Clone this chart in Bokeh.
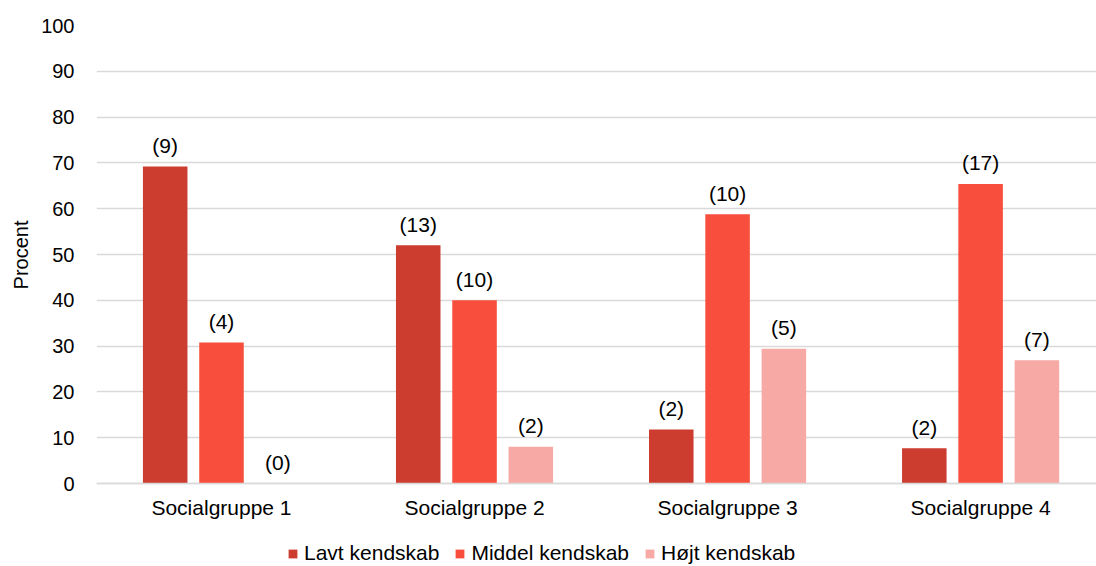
from bokeh.plotting import figure
from bokeh.models import ColumnDataSource, Legend, LegendItem, Range1d, FixedTicker, Title
from bokeh.core.properties import value
from bokeh.embed import file_html
from bokeh.resources import INLINE

categories = ["Socialgruppe 1", "Socialgruppe 2", "Socialgruppe 3", "Socialgruppe 4"]
series = ["Lavt kendskab", "Middel kendskab", "Højt kendskab"]
lavt = [69.2, 52.0, 11.8, 7.7]
middel = [30.8, 40.0, 58.8, 65.4]
hoejt = [0.0, 8.0, 29.4, 26.9]
lavt_n = [9, 13, 2, 2]
middel_n = [4, 10, 10, 17]
hoejt_n = [0, 2, 5, 7]
colors = ["#CC3D30", "#F84E3E", "#F7A9A5"]
y_ticks = [0, 10, 20, 30, 40, 50, 60, 70, 80, 90, 100]

FONT = "Liberation Sans"

# layout (pixels): figure height, frame top, pixel row of value 0
H = 565
TOP = 25
ZERO = 483
y_start = -100.0 * (H - ZERO) / (ZERO - TOP)

p = figure(width=1096, height=H, output_backend="svg", toolbar_location=None,
           x_range=Range1d(0.506, 4.458), y_range=Range1d(y_start, 100),
           min_border_left=95, min_border_right=0, min_border_top=TOP, min_border_bottom=0)
p.outline_line_color = None
p.xgrid.grid_line_color = None
p.ygrid.grid_line_color = "#D9D9D9"
p.ygrid.grid_line_width = 1.3
p.ygrid.ticker = FixedTicker(ticks=y_ticks)

offsets = [-0.2225, 0.0, 0.2225]
width = 0.176
renderers = []
for vals, counts, off, col in zip([lavt, middel, hoejt], [lavt_n, middel_n, hoejt_n], offsets, colors):
    xs = [i + 1 + off for i in range(len(categories))]
    src = ColumnDataSource(dict(x=xs, top=vals, lab=["(%d)" % c for c in counts]))
    r = p.vbar(x="x", top="top", width=width, source=src, fill_color=col, line_color=None)
    renderers.append(r)
    p.text(x="x", y="top", text="lab", source=src, text_align="center", text_baseline="middle",
           y_offset=-21, text_font=value(FONT), text_font_size="21px", text_color="#000000")

# x axis drawn at value 0 inside the frame
p.xaxis.fixed_location = 0
p.xaxis.ticker = FixedTicker(ticks=[1, 2, 3, 4])
p.xaxis.major_label_overrides = {i + 1: c for i, c in enumerate(categories)}
p.xaxis.axis_line_color = "#D9D9D9"
p.xaxis.axis_line_width = 1.3
p.xaxis.major_tick_line_color = None
p.xaxis.minor_tick_line_color = None
p.xaxis.major_label_text_font = FONT
p.xaxis.major_label_text_font_size = "21px"
p.xaxis.major_label_text_color = "#000000"
p.xaxis.major_label_standoff = 6

p.yaxis.ticker = FixedTicker(ticks=y_ticks)
p.yaxis.axis_line_color = None
p.yaxis.major_tick_line_color = None
p.yaxis.minor_tick_line_color = None
p.yaxis.major_label_text_font = FONT
p.yaxis.major_label_text_font_size = "20px"
p.yaxis.major_label_text_color = "#000000"
p.yaxis.major_label_standoff = 16

ytitle = Title(text="Procent", align="right", offset=195, text_font=FONT, text_font_size="20px",
               text_font_style="normal", text_color="#000000", standoff=14)
p.add_layout(ytitle, "left")

legend = Legend(items=[LegendItem(label=s, renderers=[r]) for s, r in zip(series, renderers)],
                orientation="horizontal", location=(191, 0),
                glyph_width=11, glyph_height=11, label_height=21,
                label_text_font=FONT, label_text_font_size="21px", label_text_color="#000000",
                label_standoff=6, spacing=15, padding=0, margin=0,
                border_line_color=None, background_fill_alpha=0)
p.add_layout(legend, "center")

open("out.html", "w").write(file_html(p, INLINE))
